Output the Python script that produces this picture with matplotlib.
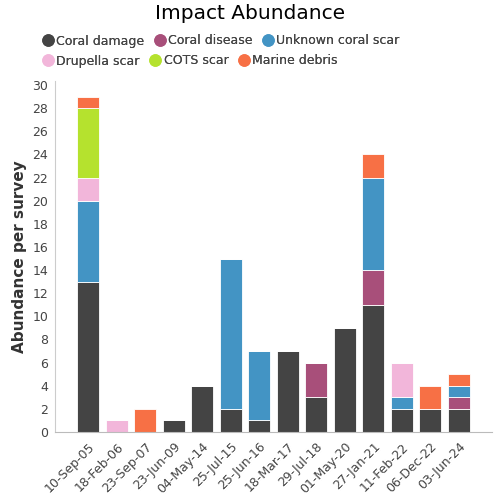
import matplotlib.pyplot as plt
from matplotlib.lines import Line2D
import numpy as np

dates = ['10-Sep-05', '18-Feb-06', '23-Sep-07', '23-Jun-09', '04-May-14', '25-Jul-15',
         '25-Jun-16', '18-Mar-17', '29-Jul-18', '01-May-20', '27-Jan-21', '11-Feb-22',
         '06-Dec-22', '03-Jun-24']

coral_damage = [13, 0, 0, 1, 4, 2, 1, 7, 3, 9, 11, 2, 2, 2]
coral_disease = [0, 0, 0, 0, 0, 0, 0, 0, 3, 0, 3, 0, 0, 1]
unknown_scar = [7, 0, 0, 0, 0, 13, 6, 0, 0, 0, 8, 1, 0, 1]
drupella_scar = [2, 1, 0, 0, 0, 0, 0, 0, 0, 0, 0, 3, 0, 0]
cots_scar = [6, 0, 0, 0, 0, 0, 0, 0, 0, 0, 0, 0, 0, 0]
marine_debris = [1, 0, 2, 0, 0, 0, 0, 0, 0, 0, 2, 0, 2, 1]

series = [
    ('Coral damage', coral_damage, '#444444'),
    ('Coral disease', coral_disease, '#a84f7a'),
    ('Unknown coral scar', unknown_scar, '#4394c4'),
    ('Drupella scar', drupella_scar, '#f2b6da'),
    ('COTS scar', cots_scar, '#b5e22e'),
    ('Marine debris', marine_debris, '#f77045'),
]


def main():
    fig = plt.figure(figsize=(5, 5), dpi=100)
    ax = fig.add_axes([0.11, 0.136, 0.874, 0.702])

    x = np.arange(len(dates))
    bottom = np.zeros(len(dates))
    handles = []
    for name, vals, color in series:
        vals = np.array(vals, dtype=float)
        ax.bar(x, vals, bottom=bottom, width=0.77, color=color,
               edgecolor='white', linewidth=0.6)
        bottom += vals
        handles.append(Line2D([], [], marker='o', linestyle='', color=color,
                              markersize=8, label=name))

    ax.set_xlim(-1.16, 13 + 1.16)
    ax.set_ylim(0, 30.35)
    ax.set_yticks(range(0, 31, 2))
    ax.set_xticks(x)
    ax.set_xticklabels(dates, rotation=45, ha='right', rotation_mode='anchor')
    ax.tick_params(axis='both', labelsize=9, colors='#444444', length=0)
    ax.tick_params(axis='x', pad=6)
    ax.tick_params(axis='y', pad=5)
    for s in ['top', 'right']:
        ax.spines[s].set_visible(False)
    ax.spines['bottom'].set_color('#bbbbbb')
    ax.spines['left'].set_color('#cccccc')
    ax.set_ylabel('Abundance per survey', fontsize=11, fontweight='bold',
                  color='#333333', labelpad=4)

    fig.text(0.5, 0.973, 'Impact Abundance', ha='center', va='center',
             fontsize=14.5, color='black')

    # two single-row legends so columns are not forced to line up
    for row, y in [(0, 0.931), (1, 0.891)]:
        hs = handles[row * 3:row * 3 + 3]
        leg = fig.legend(hs, [h.get_label() for h in hs], ncol=3,
                         loc='upper left', bbox_to_anchor=(0.084, y),
                         frameon=False, fontsize=9, handletextpad=0.15,
                         columnspacing=0.75, borderaxespad=0, borderpad=0,
                         labelcolor='#444444', handlelength=1.0)
        fig.add_artist(leg)

    fig.savefig('out.png', dpi=100)


if __name__ == '__main__':
    main()
